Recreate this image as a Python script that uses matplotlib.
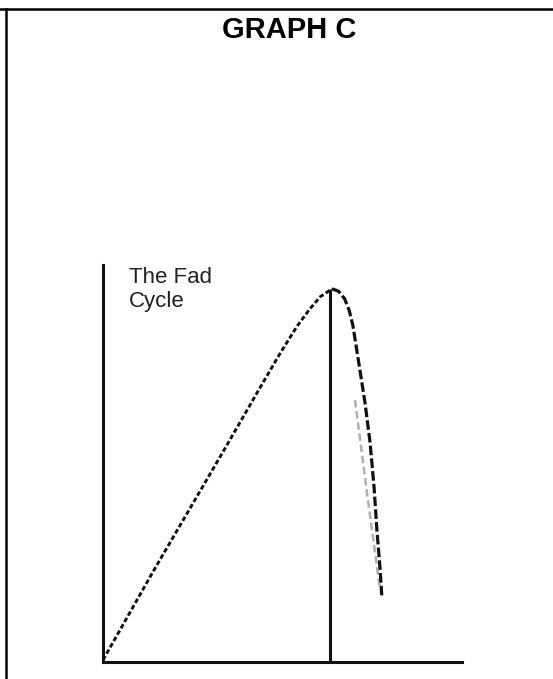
import matplotlib
matplotlib.use("Agg")
import matplotlib.pyplot as plt
from matplotlib.lines import Line2D

plt.rcParams['font.family'] = ['Liberation Sans', 'DejaVu Sans']

# hand-drawn fad cycle (time vs popularity, 0-100)
rise_x = [0, 13.9, 33.4, 44.0, 49.5, 54.0, 57.5, 60.5, 63.8]
rise_y = [0.5, 22.7, 52.9, 69.5, 78.0, 84.5, 88.8, 92.0, 94.0]
fall_x = [63.8, 65.6, 67.3, 68.6, 69.6, 71.0, 73.0, 74.4, 75.5, 76.3, 77.2, 77.7]
fall_y = [94.0, 93.4, 91.5, 88.5, 84.8, 76.8, 65.2, 55.2, 44.1, 33.2, 23.2, 16.1]
ghost_x = [70.2, 73.8, 77.2]
ghost_y = [66.0, 40.8, 18.1]
peak_x = 63.3
peak_y = 94.0

title = "GRAPH C"
label = "The Fad\nCycle"

fig = plt.figure(figsize=(5.53, 6.79), dpi=100)

# table border: top rule and left rule
fig.add_artist(Line2D([0, 1], [1 - 8.5 / 679, 1 - 8.5 / 679], color='black', lw=1.8,
                      transform=fig.transFigure))
fig.add_artist(Line2D([5.5 / 553, 5.5 / 553], [0, 1 - 8.5 / 679], color='black', lw=1.8,
                      transform=fig.transFigure))

fig.text(289 / 553, 1 - 30 / 679, title, ha='center', va='center',
         fontsize=21, fontweight='bold', color='black')

ax = fig.add_axes([103 / 553, 17 / 679, 359 / 553, 397 / 679])
ax.set_xlim(0, 100)
ax.set_ylim(0, 100)
ax.set_facecolor('none')

for side in ['top', 'right']:
    ax.spines[side].set_visible(False)
for side in ['left', 'bottom']:
    ax.spines[side].set_linewidth(2.2)
    ax.spines[side].set_color('#111111')
ax.set_xticks([])
ax.set_yticks([])

ax.plot(ghost_x, ghost_y, color='#b0b0b0', lw=1.8, dashes=(3, 1.5))
ax.plot(rise_x, rise_y, color='#111111', lw=2.1, dashes=(1.6, 0.9))
ax.plot(fall_x, fall_y, color='#111111', lw=2.3, dashes=(3, 1))
ax.plot([peak_x, peak_x], [0, peak_y], color='#111111', lw=2.2, solid_capstyle='butt')

ax.text(7.2, 99.5, label, ha='left', va='top', fontsize=16, color='#222222',
        linespacing=1.2)

fig.savefig('out.png', dpi=100)
